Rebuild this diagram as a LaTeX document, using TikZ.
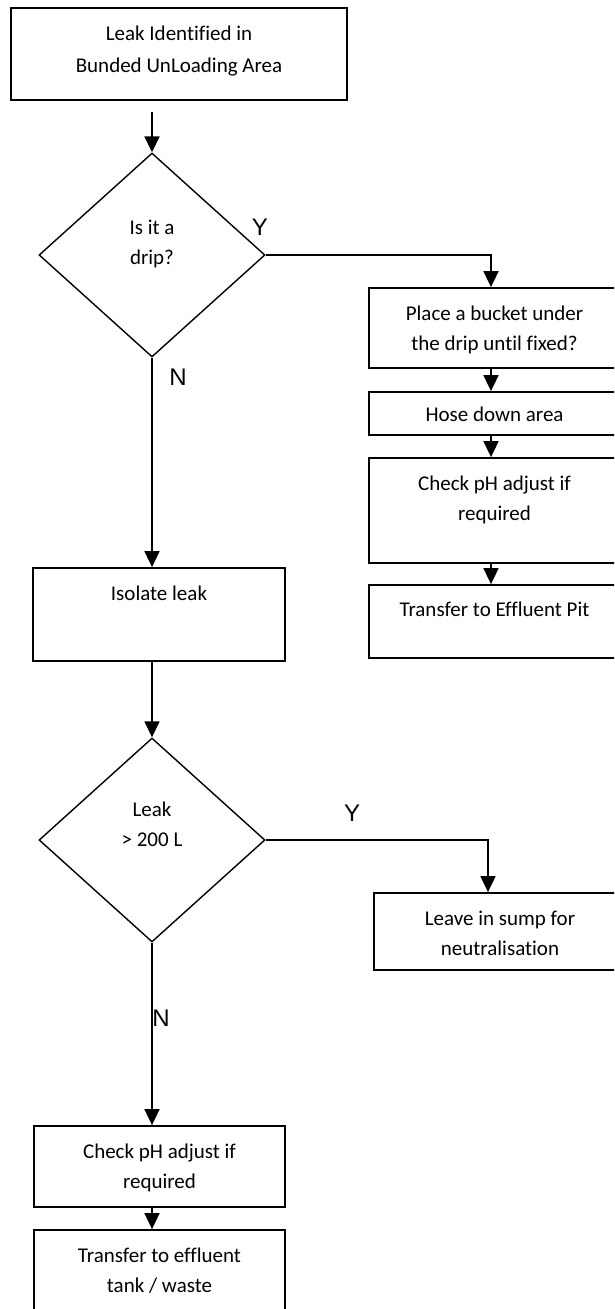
\documentclass[tikz,border=0pt]{standalone}
\usepackage{fontspec}
\setmainfont{Carlito}[Ligatures=NoCommon]
\newfontfamily\labelfont{Liberation Sans}
\usetikzlibrary{shapes.geometric,arrows.meta}

\tikzset{
  stepbox/.style={draw, line width=1.8pt, rectangle, inner sep=0pt},
  decision/.style={draw, line width=1.4pt, diamond, inner sep=0pt,
    minimum width=226pt, minimum height=204pt},
  boxtext/.style={anchor=north, inner sep=0pt, align=center,
    font=\fontsize{21}{29.5}\selectfont},
  yn/.style={inner sep=0pt, font=\labelfont\fontsize{24}{24}\selectfont},
  flow/.style={line width=1.8pt, -{Triangle[length=16pt,width=15pt]}},
}

\begin{document}
\begin{tikzpicture}[x=1pt, y=-1pt]
\useasboundingbox (0,0) rectangle (614,1309);
\clip (0,0) rectangle (614,1309);
\fill[white] (0,0) rectangle (614,1309);

% left column
\node[stepbox, minimum width=336pt, minimum height=92pt] (start) at (179,54) {};
\node[boxtext] (startT) at ([yshift=-19pt]start.north) {Leak Identified in\\[2.5pt]Bunded UnLoading Area};

\node[decision] (drip) at (152,255) {};
\node[boxtext] (dripT) at (152,220) {Is it a\\drip?};

\node[stepbox, minimum width=252pt, minimum height=93pt] (isolate) at (159,614.5) {};
\node[boxtext] (isolateT) at ([yshift=-19pt]isolate.north) {Isolate leak};

\node[decision] (big) at (152,840) {};
\node[boxtext] (bigT) at (152,802) {Leak\\> 200 L};

\node[stepbox, minimum width=251pt, minimum height=81pt] (checkL) at (159.5,1166.5) {};
\node[boxtext] (checkLT) at ([yshift=-19pt]checkL.north) {Check pH adjust if\\required};

\node[stepbox, minimum width=251pt, minimum height=90pt] (tank) at (159.5,1275) {};
\node[boxtext] (tankT) at ([yshift=-19pt]tank.north) {Transfer to effluent\\tank / waste};

% right column (drip branch)
\node[stepbox, minimum width=251pt, minimum height=80pt] (bucket) at (494.5,328) {};
\node[boxtext] (bucketT) at ([yshift=-19pt]bucket.north) {Place a bucket under\\the drip until fixed?};

\node[stepbox, minimum width=251pt, minimum height=43pt] (hose) at (494.5,413.5) {};
\node[boxtext] (hoseT) at ([yshift=-16pt]hose.north) {Hose down area};

\node[stepbox, minimum width=251pt, minimum height=105pt] (checkR) at (494.5,510.5) {};
\node[boxtext] (checkRT) at ([yshift=-19pt]checkR.north) {Check pH adjust if\\required};

\node[stepbox, minimum width=251pt, minimum height=73pt] (pit) at (494.5,621.5) {};
\node[boxtext] (pitT) at ([yshift=-18pt]pit.north) {Transfer to Effluent Pit};

% right column (large leak branch)
\node[stepbox, minimum width=252pt, minimum height=77pt] (sump) at (500,931.5) {};
\node[boxtext] (sumpT) at ([yshift=-19pt]sump.north) {Leave in sump for\\neutralisation};

% branch labels
\node[yn] (dripY) at (260,227) {Y};
\node[yn] (dripN) at (178,377) {N};
\node[yn] (bigY) at (352,813) {Y};
\node[yn] (bigN) at (161,1018) {N};

% connectors
\coordinate (startOut) at (152,112);
\coordinate (dripTurn) at (491,255);
\coordinate (bigTurn) at (488,840);

\draw[flow] (startOut) -- (drip.north);
\draw[flow] (drip.east) -- (dripTurn) -- (dripTurn |- bucket.north);
\draw[flow] (bucket.south -| dripTurn) -- (hose.north -| dripTurn);
\draw[flow] (hose.south -| dripTurn) -- (checkR.north -| dripTurn);
\draw[flow] (checkR.south -| dripTurn) -- (pit.north -| dripTurn);
\draw[flow] (drip.south) -- (isolate.north -| drip.south);
\draw[flow] (isolate.south -| big.north) -- (big.north);
\draw[flow] (big.east) -- (bigTurn) -- (bigTurn |- sump.north);
\draw[flow] (big.south) -- (checkL.north -| big.south);
\draw[flow] (checkL.south -| big.south) -- (tank.north -| big.south);
\end{tikzpicture}
\end{document}
